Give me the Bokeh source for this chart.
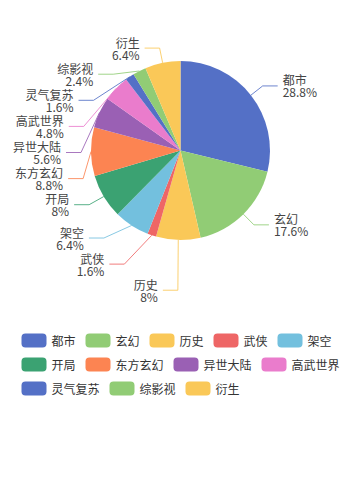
import math
from bokeh.plotting import figure
from bokeh.models import Range1d, ColumnDataSource
from bokeh.core.properties import value
from bokeh.embed import file_html
from bokeh.resources import INLINE

# ---------------- data ----------------
names = ["都市", "玄幻", "历史", "武侠", "架空", "开局", "东方玄幻",
         "异世大陆", "高武世界", "灵气复苏", "综影视", "衍生"]
counts = [36, 22, 10, 2, 8, 10, 11, 7, 6, 2, 3, 8]
palette = ["#5470c6", "#91cc75", "#fac858", "#ee6666", "#73c0de",
           "#3ba272", "#fc8452", "#9a60b4", "#ea7ccc"]

# ---------------- layout constants (page pixels, y down) ----------------
W, H = 360, 480
CX, CY, R = 180.0, 150.0, 89.5
LEN1, LEN2, DIST = 15.0, 15.0, 5.0
LINE_H = 12.0
RECT_H = 2 * LINE_H + 2.1
FONT = value("Noto Sans CJK SC")

n = len(names)
total = float(sum(counts))
colors = [palette[i % len(palette)] for i in range(n)]
pcts = [f"{round(c / total * 100, 2):g}%" for c in counts]

starts, ends = [], []
acc = 0
for c in counts:
    starts.append(acc / total)
    acc += c
    ends.append(acc / total)

# ---------------- label layout (echarts-like) ----------------
labels = []
for i in range(n):
    mid = (starts[i] + ends[i]) / 2 * 2 * math.pi
    dx, dy = math.sin(mid), -math.cos(mid)
    x1, y1 = CX + R * dx, CY + R * dy
    x2, y2 = x1 + dx * LEN1, y1 + dy * LEN1
    d = -1 if dx < 0 else 1
    x3, y3 = x2 + d * LEN2, y2
    labels.append(dict(i=i, dir=d, x=x3 + d * DIST, y=y3,
                       pts=[[x1, y1], [x2, y2], [x3, y3]]))


def adjust_side(lst, d):
    if len(lst) < 2:
        return
    lst.sort(key=lambda L: L["y"])
    last = -1e9
    adjusted = False
    for L in lst:
        top = L["y"] - RECT_H / 2
        delta = top - last
        if delta < 0:
            L["y"] -= delta
            adjusted = True
        last = L["y"] - RECT_H / 2 + RECT_H
    if not adjusted:
        return
    rA = R + LEN1
    semis = {"top": dict(items=[], maxY=0.0, rB=rA), "bot": dict(items=[], maxY=0.0, rB=rA)}
    for L in lst:
        s = semis["bot"] if L["y"] > CY else semis["top"]
        ddy = abs(L["y"] - CY)
        if ddy >= s["maxY"]:
            ddx = L["x"] - CX - LEN2 * d
            if abs(ddx) < rA:
                s["rB"] = math.sqrt(ddy * ddy / (1 - ddx * ddx / rA / rA))
            else:
                s["rB"] = rA
            s["maxY"] = ddy
        s["items"].append(L)
    for s in semis.values():
        rB2 = s["rB"] ** 2
        for L in s["items"]:
            ddy = abs(L["y"] - CY)
            ex = math.sqrt(max(0.0, 1 - ddy * ddy / rB2) * rA * rA)
            L["x"] = CX + (ex + LEN2) * d


adjust_side([L for L in labels if L["dir"] < 0], -1)
adjust_side([L for L in labels if L["dir"] > 0], 1)

for L in labels:
    p = L["pts"]
    dist = p[1][0] - p[2][0]
    p[2][0] = L["x"] + DIST if L["x"] < CX else L["x"] - DIST
    p[1][0] = p[2][0] + dist
    p[1][1] = p[2][1] = L["y"]
    # limit turn angle (90 deg)
    v1 = (p[0][0] - p[1][0], p[0][1] - p[1][1])
    v2 = (p[2][0] - p[1][0], p[2][1] - p[1][1])
    l1, l2 = math.hypot(*v1), math.hypot(*v2)
    if l1 > 1e-3 and l2 > 1e-3:
        cosang = (v1[0] * v2[0] + v1[1] * v2[1]) / (l1 * l2)
        if cosang > 0:
            t = (p[0][0] - p[1][0]) / (p[2][0] - p[1][0])
            t = min(max(t, 0.0), 1.0)
            p[1][0] = p[1][0] + t * (p[2][0] - p[1][0])

# ---------------- figure ----------------
p = figure(width=W - 16, height=H - 16, output_backend="svg", toolbar_location=None,
           x_range=Range1d(0, W - 16), y_range=Range1d(16, H),
           x_axis_location=None, y_axis_location=None, min_border=0,
           outline_line_color=None, background_fill_color="white",
           border_fill_color="white")
p.grid.visible = False
p.min_border_left = p.min_border_right = p.min_border_top = p.min_border_bottom = 0

wedges = ColumnDataSource(dict(
    start=[math.pi / 2 - 2 * math.pi * e for e in ends],
    end=[math.pi / 2 - 2 * math.pi * s for s in starts],
    color=colors))
p.wedge(x=CX, y=H - CY, radius=R, start_angle="start", end_angle="end",
        direction="anticlock", fill_color="color", line_color=None, source=wedges)

p.multi_line(xs=[[q[0] for q in L["pts"]] for L in labels],
             ys=[[H - q[1] for q in L["pts"]] for L in labels],
             line_color=[colors[L["i"]] for L in labels], line_width=1, line_alpha=0.85)

lab_src = ColumnDataSource(dict(
    x=[L["x"] for L in labels],
    yn=[H - (L["y"] - LINE_H / 2) for L in labels],
    yp=[H - (L["y"] + LINE_H / 2) for L in labels],
    name=[names[L["i"]] for L in labels],
    pct=[pcts[L["i"]] for L in labels],
    align=["right" if L["dir"] < 0 else "left" for L in labels]))
for col in ("yn", "yp"):
    p.text(x="x", y=col, text="name" if col == "yn" else "pct", source=lab_src,
           text_align="align", text_baseline="middle", text_font=FONT,
           text_font_size="12px", text_color="#444444")

# ---------------- legend ----------------
ICON_W, ICON_H, ICON_GAP, ITEM_GAP, ROW_PITCH = 25, 14, 5, 10, 24
LEG_TOP = 333
MAX_W = W
char_w = 12
widths = [ICON_W + ICON_GAP + char_w * len(nm) for nm in names]
rows, cur, cur_w = [], [], 0
for i, w in enumerate(widths):
    add = w if not cur else cur_w + ITEM_GAP + w
    if cur and add > MAX_W:
        rows.append(cur)
        cur, cur_w = [i], w
    else:
        cur.append(i)
        cur_w = add
rows.append(cur)
row_w = [sum(widths[i] for i in r) + ITEM_GAP * (len(r) - 1) for r in rows]
left0 = (W - max(row_w)) / 2

ix, iy, tx = [], [], []
order = []
for ri, r in enumerate(rows):
    x = left0
    yc = LEG_TOP + ICON_H / 2 + ri * ROW_PITCH
    for i in r:
        ix.append(x)
        iy.append(yc)
        tx.append(x + ICON_W + ICON_GAP)
        order.append(i)
        x += widths[i] + ITEM_GAP

leg = ColumnDataSource(dict(
    left=ix, right=[x + ICON_W for x in ix],
    top=[H - (y - ICON_H / 2) for y in iy], bottom=[H - (y + ICON_H / 2) for y in iy],
    tx=tx, ty=[H - y for y in iy],
    name=[names[i] for i in order], color=[colors[i] for i in order]))
p.quad(left="left", right="right", top="top", bottom="bottom", fill_color="color",
       line_color=None, border_radius=4, source=leg)
p.text(x="tx", y="ty", text="name", source=leg, text_align="left",
       text_baseline="middle", text_font=FONT, text_font_size="12px",
       text_color="#333333")

open("out.html", "w").write(file_html(p, INLINE))
